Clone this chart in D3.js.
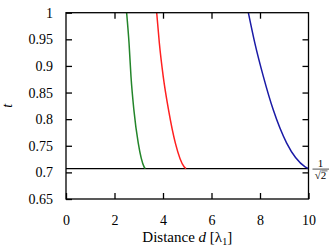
<!doctype html>
<html>
<head>
<meta charset="utf-8">
<style>
    body { margin: 0; background: #fff; }
    text { font-family: "Liberation Serif", "DejaVu Serif", serif; fill: #000; }
</style>
<script src="https://d3js.org/d3.v7.min.js"></script>
</head>
<body>
<svg id="chart" width="332" height="249"></svg>
<script>

    // values
    var xTicks = [0, 2, 4, 6, 8, 10],
        yTicks = [0.65, 0.7, 0.75, 0.8, 0.85, 0.9, 0.95, 1];

    var greenD = [2.50, 2.60, 2.68, 2.80, 2.98, 3.22, 3.27],
        greenT = [1.0, 0.9425, 0.88, 0.817, 0.755, 0.7105, 0.707];
    var redD = [3.74, 3.85, 4.01, 4.23, 4.51, 4.87, 4.95],
        redT = [1.0, 0.9425, 0.88, 0.817, 0.755, 0.7105, 0.707];
    var blueD = [7.52, 7.79, 8.14, 8.55, 9.10, 9.86, 10.0],
        blueT = [1.0, 0.9425, 0.88, 0.817, 0.755, 0.7105, 0.707];

    var limit = Math.SQRT1_2;

    var svg = d3.select("#chart"),
        pLeft = 66, pRight = 308.5, pTop = 12.7, pBottom = 199;

    var x = d3.scaleLinear().domain([0, 10]).range([pLeft, pRight]),
        y = d3.scaleLinear().domain([0.65, 1]).range([pBottom, pTop]);

    var tickLen = 6;

    // axes, ticks pointing inwards
    svg.append("g")
       .attr("transform", "translate(0," + pBottom + ")")
       .call(d3.axisBottom(x).tickValues(xTicks).tickSize(-tickLen).tickPadding(16).tickFormat(d3.format("d")))
       .call(function(g) { g.select(".domain").remove(); })
       .selectAll("text").attr("font-size", "14px");

    svg.append("g")
       .attr("transform", "translate(0," + pTop + ")")
       .call(d3.axisTop(x).tickValues(xTicks.slice(1, -1)).tickSize(-tickLen).tickFormat(""))
       .select(".domain").remove();

    svg.append("g")
       .attr("transform", "translate(" + pLeft + ",0)")
       .call(d3.axisLeft(y).tickValues(yTicks).tickSize(-tickLen).tickPadding(13).tickFormat(function(d) { return String(+d.toFixed(2)); }))
       .call(function(g) { g.select(".domain").remove(); })
       .selectAll("text").attr("font-size", "14px");

    svg.append("g")
       .attr("transform", "translate(" + pRight + ",0)")
       .call(d3.axisRight(y).tickValues(yTicks.slice(1, -1)).tickSize(-tickLen).tickFormat(""))
       .select(".domain").remove();

    svg.selectAll(".tick line").attr("stroke", "#000").attr("stroke-width", 1.3);

    // 1/sqrt(2) line
    svg.append("line")
       .attr("x1", x(0)).attr("x2", x(10))
       .attr("y1", y(limit)).attr("y2", y(limit))
       .attr("stroke", "#000").attr("stroke-width", 1.3);

    var line = d3.line()
        .x(function(d) { return x(d[0]); })
        .y(function(d) { return y(d[1]); })
        .curve(d3.curveMonotoneX);

    var series = [
        { d: greenD, t: greenT, color: "#23852a" },
        { d: redD, t: redT, color: "#ff2020" },
        { d: blueD, t: blueT, color: "#1a1aa6" }
    ];

    svg.append("defs").append("clipPath").attr("id", "clip")
       .append("rect").attr("x", pLeft).attr("y", pTop).attr("width", pRight - pLeft).attr("height", pBottom - pTop);

    svg.append("g").attr("clip-path", "url(#clip)")
       .selectAll("path")
       .data(series)
       .enter().append("path")
       .attr("fill", "none")
       .attr("stroke", function(s) { return s.color; })
       .attr("stroke-width", 1.5)
       .attr("d", function(s) { return line(d3.zip(s.d, s.t)); });

    // frame
    svg.append("rect")
       .attr("x", pLeft).attr("y", pTop)
       .attr("width", pRight - pLeft).attr("height", pBottom - pTop)
       .attr("fill", "none").attr("stroke", "#000").attr("stroke-width", 1.3);

    // 1/sqrt(2) label
    var lab = svg.append("g").attr("transform", "translate(320.5," + y(limit) + ")");
    lab.append("text").attr("x", 0).attr("y", -1.8).attr("text-anchor", "middle").attr("font-size", "11px").text("1");
    lab.append("line").attr("x1", -8).attr("x2", 8.5).attr("y1", 0.5).attr("y2", 0.5).attr("stroke", "#000").attr("stroke-width", 0.7);
    lab.append("text").attr("x", 0).attr("y", 10).attr("text-anchor", "middle").attr("font-size", "11px").text("\u221A2");
    lab.append("line").attr("x1", 0.8).attr("x2", 7).attr("y1", 2.3).attr("y2", 2.3).attr("stroke", "#000").attr("stroke-width", 0.6);

    // axis titles
    var xl = svg.append("text")
       .attr("x", (pLeft + pRight) / 2).attr("y", 242)
       .attr("text-anchor", "middle").attr("font-size", "15px");
    xl.append("tspan").text("Distance ");
    xl.append("tspan").attr("font-style", "italic").text("d");
    xl.append("tspan").text(" [\u03BB");
    xl.append("tspan").attr("font-size", "10px").attr("dy", 3).text("1");
    xl.append("tspan").attr("dy", -3).text("]");

    svg.append("text")
       .attr("transform", "translate(12," + ((pTop + pBottom) / 2) + ") rotate(-90)")
       .attr("text-anchor", "middle").attr("font-size", "14px").attr("font-style", "italic")
       .text("t");
</script>
</body>
</html>
